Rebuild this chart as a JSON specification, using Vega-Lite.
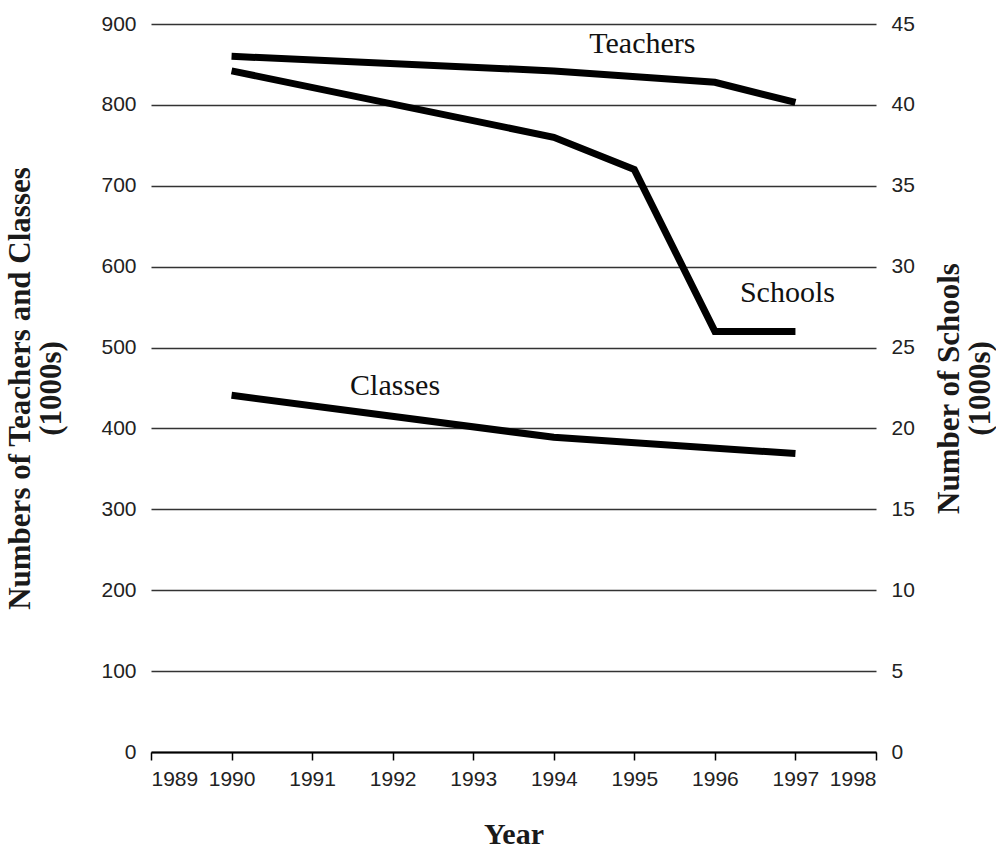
{
  "$schema": "https://vega.github.io/schema/vega-lite/v6.json",
  "width": 725,
  "height": 728,
  "autosize": {"type": "none"},
  "padding": {"left": 151, "top": 24, "right": 120, "bottom": 96},
  "background": "white",
  "config": {
    "view": {"stroke": null},
    "axis": {
      "labelFont": "Liberation Sans",
      "labelFontSize": 21,
      "labelColor": "#222222",
      "titleFont": "Liberation Serif",
      "titleFontWeight": "bold",
      "titleFontSize": 31,
      "titleColor": "#1a1a1a",
      "titleLineHeight": 31
    }
  },
  "datasets": {
    "left": [
      {"year": 1990, "series": "Teachers", "value": 860},
      {"year": 1994, "series": "Teachers", "value": 842},
      {"year": 1996, "series": "Teachers", "value": 828},
      {"year": 1997, "series": "Teachers", "value": 803},
      {"year": 1990, "series": "Classes", "value": 441},
      {"year": 1994, "series": "Classes", "value": 389},
      {"year": 1997, "series": "Classes", "value": 369}
    ],
    "schools": [
      {"year": 1990, "value": 42.1},
      {"year": 1994, "value": 38.0},
      {"year": 1995, "value": 36.0},
      {"year": 1996, "value": 26.0},
      {"year": 1997, "value": 26.0}
    ],
    "labels": [
      {"year": 1995.1, "value": 875, "label": "Teachers"},
      {"year": 1996.9, "value": 567, "label": "Schools"},
      {"year": 1992.03, "value": 453, "label": "Classes"}
    ]
  },
  "layer": [
    {
      "layer": [
        {
          "data": {"name": "left"},
          "mark": {"type": "line", "color": "black", "strokeWidth": 7},
          "encoding": {
            "x": {
              "field": "year", "type": "quantitative",
              "scale": {"domain": [1989, 1998], "nice": false, "zero": false},
              "axis": {
                "title": "Year",
                "titleFontSize": 30,
                "titlePadding": 30,
                "values": [1989, 1990, 1991, 1992, 1993, 1994, 1995, 1996, 1997, 1998],
                "format": "d",
                "grid": false,
                "domainColor": "black",
                "domainWidth": 2,
                "tickColor": "black",
                "tickWidth": 1.5,
                "tickSize": 8,
                "labelPadding": 8
              }
            },
            "y": {
              "field": "value", "type": "quantitative",
              "scale": {"domain": [0, 900], "nice": false},
              "axis": {
                "title": ["Numbers of Teachers and Classes", "(1000s)"],
                "titlePadding": 33,
                "values": [0, 100, 200, 300, 400, 500, 600, 700, 800, 900],
                "domain": false,
                "ticks": false,
                "labelPadding": 15,
                "grid": true,
                "gridColor": "#333333",
                "gridWidth": 1.5,
                "gridOpacity": 1
              }
            },
            "detail": {"field": "series", "type": "nominal"}
          }
        },
        {
          "data": {"name": "labels"},
          "mark": {"type": "text", "font": "Liberation Serif", "fontSize": 30, "color": "#111111", "baseline": "middle", "align": "center"},
          "encoding": {
            "x": {"field": "year", "type": "quantitative"},
            "y": {"field": "value", "type": "quantitative"},
            "text": {"field": "label", "type": "nominal"}
          }
        }
      ]
    },
    {
      "data": {"name": "schools"},
      "mark": {"type": "line", "color": "black", "strokeWidth": 7},
      "encoding": {
        "x": {"field": "year", "type": "quantitative"},
        "y": {
          "field": "value", "type": "quantitative",
          "scale": {"domain": [0, 45], "nice": false},
          "axis": {
            "orient": "right",
            "title": ["Number of Schools", "(1000s)"],
            "titleAngle": -90,
            "titlePadding": 20,
            "values": [0, 5, 10, 15, 20, 25, 30, 35, 40, 45],
            "domain": false,
            "ticks": false,
            "grid": false,
            "labelPadding": 15
          }
        }
      }
    }
  ],
  "resolve": {"scale": {"y": "independent"}}
}
